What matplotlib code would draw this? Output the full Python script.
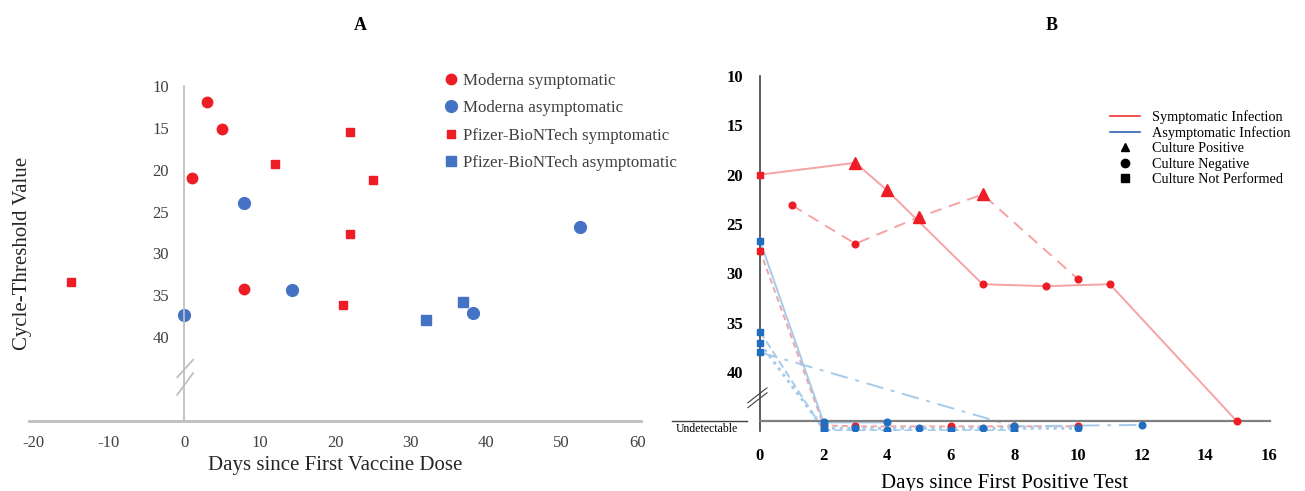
import matplotlib.pyplot as plt
from matplotlib.lines import Line2D

plt.rcParams["font.family"] = ["Liberation Serif", "DejaVu Serif"]
plt.rcParams["axes.unicode_minus"] = False

# ====== 資料:A 圖 (疫苗接種後天數 vs Ct 值) ======
mod_sym_x = [3, 5, 1, 8]
mod_sym_y = [11.9, 15.1, 21.0, 34.3]
mod_asym_x = [8, 14.3, 0, 52.4, 38.3]
mod_asym_y = [24.0, 34.4, 37.4, 26.8, 37.1]
pf_sym_x = [22, 12, 25, 22, -15, 21]
pf_sym_y = [15.5, 19.3, 21.2, 27.7, 33.4, 36.2]
pf_asym_x = [32, 37]
pf_asym_y = [38.0, 35.8]

a_xticks = [-20, -10, 0, 10, 20, 30, 40, 50, 60]
a_yticks = [10, 15, 20, 25, 30, 35, 40]

# ====== 資料:B 圖 (首次陽性後天數 vs Ct 值) ======
# marker: s = 未培養, ^ = 培養陽性, o = 培養陰性;45 以上 = 偵測不到
UNDETECTABLE = 45

sym_solid_x = [0, 3, 4, 7, 9, 11, 15]
sym_solid_y = [20.0, 18.8, 21.6, 31.1, 31.3, 31.1, 45.0]
sym_solid_m = ["s", "^", "^", "o", "o", "o", "o"]

sym_dash_x = [1, 3, 5, 7, 10]
sym_dash_y = [23.1, 27.0, 24.3, 22.0, 30.6]
sym_dash_m = ["o", "o", "^", "^", "o"]

sym_short_x = [0, 2, 3, 6, 8, 10]
sym_short_y = [27.7, 45.4, 45.5, 45.5, 45.5, 45.5]
sym_short_m = ["s", "o", "o", "o", "o", "o"]

asym_solid_x = [0, 2, 4]
asym_solid_y = [26.7, 45.1, 45.1]
asym_solid_m = ["s", "o", "o"]

asym_dashdot_x = [0, 8, 12]
asym_dashdot_y = [38.0, 45.5, 45.35]
asym_dashdot_m = ["s", "o", "o"]

asym_dot_x = [0, 2, 3, 5, 7, 10]
asym_dot_y = [37.1, 45.7, 45.7, 45.7, 45.7, 45.7]
asym_dot_m = ["s", "o", "o", "o", "o", "o"]

asym_dash_x = [0, 2, 4, 6, 8]
asym_dash_y = [35.9, 45.9, 45.9, 45.9, 45.9]
asym_dash_m = ["s", "o", "o", "o", "o"]

b_xticks = [0, 2, 4, 6, 8, 10, 12, 14, 16]
b_yticks = [10, 15, 20, 25, 30, 35, 40]

# ====== 顏色 ======
red = "#EE1C25"
blue_a = "#4472C4"
blue_pt = "#1F6EC1"
red_line = "#F5A3A3"
blue_line = "#A6CBEA"
axis_gray = "#BFBFBF"
text_gray = "#404040"

fig = plt.figure(figsize=(13.05, 4.91), dpi=100)

# ===== A 圖 =====
axA = fig.add_axes([0.0224, 0.1344, 0.4687, 0.7075])
axA.set_xlim(-20.5, 60.5)
axA.set_ylim(50.5, 9)

axA.plot(mod_sym_x, mod_sym_y, "o", color=red, ms=7.5, ls="none", label="Moderna symptomatic")
axA.plot(mod_asym_x, mod_asym_y, "o", color=blue_a, ms=8.5, ls="none", label="Moderna asymptomatic")
axA.plot(pf_sym_x, pf_sym_y, "s", color=red, ms=6, ls="none", label="Pfizer-BioNTech symptomatic")
axA.plot(pf_asym_x, pf_asym_y, "s", color=blue_a, ms=6.5, ls="none", label="Pfizer-BioNTech asymptomatic")

for s in ["top", "right"]:
    axA.spines[s].set_visible(False)
axA.spines["left"].set_position(("data", 0))
axA.spines["left"].set_bounds(50, 10)
axA.spines["left"].set_color(axis_gray)
axA.spines["left"].set_linewidth(1.3)
axA.spines["bottom"].set_position(("data", 50))
axA.spines["bottom"].set_color(axis_gray)
axA.spines["bottom"].set_linewidth(2)

axA.set_xticks(a_xticks)
axA.set_yticks(a_yticks)
axA.tick_params(axis="both", length=0, labelsize=12, labelcolor=text_gray)
axA.tick_params(axis="x", pad=10)
axA.tick_params(axis="y", pad=11)

# 斷軸符號
axA.plot([-0.9, 1.2], [44.8, 42.7], color=axis_gray, lw=1.3, clip_on=False)
axA.plot([-0.9, 1.2], [46.9, 44.3], color=axis_gray, lw=1.3, clip_on=False)

axA.legend(loc="upper left", bbox_to_anchor=(0.335, 0.866), bbox_transform=fig.transFigure,
           frameon=False, fontsize=12.2, handlelength=0.8, handletextpad=0.35,
           labelspacing=0.68, labelcolor=text_gray, borderaxespad=0)

fig.text(0.2567, 0.052, "Days since First Vaccine Dose", ha="center", va="center",
         fontsize=15, color="#262626")
fig.text(0.0175, 0.483, "Cycle-Threshold Value", ha="center", va="center",
         rotation=90, fontsize=15, color="#262626")
fig.text(0.276, 0.949, "A", ha="center", va="center", fontsize=13, fontweight="bold")

# ===== B 圖 =====
axB = fig.add_axes([0.5775, 0.1216, 0.4021, 0.7338])
axB.set_xlim(-0.2, 16.3)
axB.set_ylim(46, 9.5)

series = [
    (sym_solid_x, sym_solid_y, sym_solid_m, red_line, "-", 1.4, red),
    (sym_dash_x, sym_dash_y, sym_dash_m, red_line, (0, (6, 4)), 1.4, red),
    (sym_short_x, sym_short_y, sym_short_m, red_line, (0, (3, 2)), 1.4, red),
    (asym_solid_x, asym_solid_y, asym_solid_m, blue_line, "-", 1.4, blue_pt),
    (asym_dashdot_x, asym_dashdot_y, asym_dashdot_m, blue_line, (0, (9, 4, 2, 4)), 1.4, blue_pt),
    (asym_dot_x, asym_dot_y, asym_dot_m, blue_line, (0, (1, 1.5)), 2.2, blue_pt),
    (asym_dash_x, asym_dash_y, asym_dash_m, blue_line, (0, (4, 2)), 1.4, blue_pt),
]
msize = {"s": 5, "^": 8, "o": 4.8}
for xs, ys, ms, lc, ls, lw, pc in series:
    axB.plot(xs, ys, color=lc, ls=ls, lw=lw, zorder=2)
    for x, y, m in zip(xs, ys, ms):
        axB.plot(x, y, marker=m, color=pc, ms=msize[m], ls="none", zorder=4)

# 偵測不到基準線
axB.plot([0, 16.05], [UNDETECTABLE, UNDETECTABLE], color="#7F7F7F", lw=1.6, zorder=3)
axB.plot([-2.78, -0.4], [UNDETECTABLE, UNDETECTABLE], color="#404040", lw=1, clip_on=False)
axB.text(-1.67, 45.75, "Undetectable", ha="center", va="center", fontsize=8.5)

for s in ["top", "right", "bottom"]:
    axB.spines[s].set_visible(False)
axB.spines["left"].set_position(("data", 0))
axB.spines["left"].set_bounds(46, 10)
axB.spines["left"].set_color("#404040")
axB.spines["left"].set_linewidth(1.2)

axB.set_xticks(b_xticks)
axB.set_yticks(b_yticks)
axB.tick_params(axis="both", length=0, labelsize=12)
axB.tick_params(axis="x", pad=12)
axB.tick_params(axis="y", pad=12)
for lab in axB.get_xticklabels() + axB.get_yticklabels():
    lab.set_fontweight("bold")

axB.plot([-0.38, 0.22], [43.1, 41.6], color="#404040", lw=0.8, clip_on=False)
axB.plot([-0.38, 0.22], [43.6, 42.1], color="#404040", lw=0.8, clip_on=False)

handles = [
    Line2D([], [], color="#F03030", lw=1.2),
    Line2D([], [], color="#2E64B4", lw=1.2),
    Line2D([], [], marker="^", color="black", ls="none", ms=6),
    Line2D([], [], marker="o", color="black", ls="none", ms=6),
    Line2D([], [], marker="s", color="black", ls="none", ms=6),
]
labels = ["Symptomatic Infection", "Asymptomatic Infection", "Culture Positive",
          "Culture Negative", "Culture Not Performed"]
axB.legend(handles, labels, loc="upper left", bbox_to_anchor=(0.8465, 0.787),
           bbox_transform=fig.transFigure, frameon=False, fontsize=10.3,
           handlelength=2.1, handletextpad=0.8, labelspacing=0.16, borderaxespad=0)

fig.text(0.770, 0.016, "Days since First Positive Test", ha="center", va="center", fontsize=15)
fig.text(0.806, 0.949, "B", ha="center", va="center", fontsize=13, fontweight="bold")

plt.savefig("out.png", dpi=100, facecolor="white")
plt.close()
